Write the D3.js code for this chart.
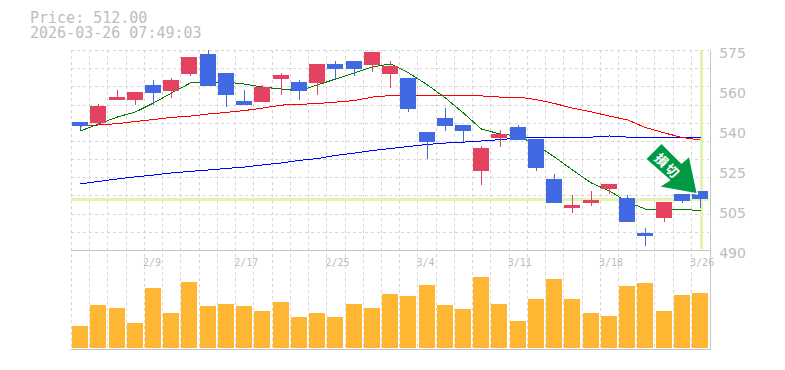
<!DOCTYPE html>
<html>
<head>
<meta charset="utf-8">
<script src="https://cdn.jsdelivr.net/npm/d3@7"></script>
<style>
  html, body { margin: 0; padding: 0; background: #fff; }
</style>
</head>
<body>
<div id="frame"></div>
<script>
// chart values
const dates = ["2/3","2/4","2/5","2/6","2/9","2/10","2/12","2/13","2/16","2/17","2/18","2/19","2/20","2/24","2/25","2/26","2/27","3/2","3/3","3/4","3/5","3/6","3/9","3/10","3/11","3/12","3/13","3/16","3/17","3/18","3/19","3/23","3/24","3/25","3/26"];
const opens = [545.5,545.1,555.1,555.1,561.7,559.1,566.5,575.2,567,554.7,554.2,564.3,563,562.6,570.9,572.2,570.4,566.5,564.7,541.1,547.2,544.2,524.1,538.5,543.3,538.1,520.6,507.9,510.1,516.2,512.3,497,503.5,514,515.3];
const highs = [545.5,553.4,559.5,558.6,563.9,564.7,573.9,577,567,559.5,561.7,567,563.9,570.9,572.2,572.2,576.1,572.2,564.7,541.1,551.6,544.2,535,542,544.2,538.1,522.7,513.6,515.3,518.4,513.6,499.1,510.5,514,515.3];
const lows = [542,544.2,555.1,552.9,552.9,556,565.6,561.2,552.1,552.9,554.2,557.3,555.1,557.3,564.3,565.6,567.4,560.4,549.9,529.3,541.6,536.7,518,534.6,537.6,524.1,510.1,505.7,508.7,514,501.7,491.2,501.7,510.1,507.9];
const closes = [543.7,552.5,556.4,558.6,558.2,563.9,573.9,561.2,557.3,552.9,560.8,566.1,559.1,570.9,568.7,568.7,576.1,570,551.2,536.7,543.7,541.6,534.1,540.2,537.6,525.4,510.1,509.2,511.4,518.4,501.7,495.6,510.5,511,512];
const ma5 = [541.6,544.6,547.7,549.9,553.8,558.2,562.6,563,563,562.1,560.8,559.9,559.1,561.7,564.3,567,569.6,570.9,567,561.7,556,549.4,542.4,540.2,539.4,535.4,530.2,524.5,518.8,515.3,510.5,507.4,507.4,507.4,506.6];
const ma25 = [543.7,544.2,544.8,545.7,546.6,547.5,548.1,549,549.7,550.5,551.6,552.9,553.2,553.6,554.2,554.9,556.4,557.1,557.1,556.9,556.9,556.9,556.9,556.4,556.4,555.3,553.6,551.6,549.9,548.1,546.4,543.1,540.7,538.7,537.6];
const ma75 = [518.4,519.5,520.6,521.5,522.3,523.2,523.9,524.5,525.2,525.8,526.7,527.6,528.7,529.5,530.9,531.9,533,533.9,534.8,535.7,536.3,536.7,537.2,537.8,538.5,538.9,538.9,538.9,538.9,539.4,538.9,538.9,538.9,538.9,538.9];
const volumes = [22,43,40,25,60,35,66,42,44,42,37,46,31,35,31,44,40,54,52,63,43,39,71,44,27,49,69,49,35,32,62,65,37,53,55];
const priceTicks = [577,559.5,542,524.5,507,489.5];
const priceLabels = ["575","560","540","525","505","490"];
const dateLabels = ["2/9","2/17","2/25","3/4","3/11","3/18","3/26"];
const lastPrice = 512;
const lastTime = "2026-03-26 07:49:03";
const signalText = "損切";

const width = 785, height = 370;
const plot = { left: 71, right: 709.2, top: 50, mid: 250, bottom: 348 };
const upColor = "#e34361", downColor = "#4169e1", lineGrey = "#c4c4c4", textGrey = "#bdbdbd";

const svg = d3.select("#frame").append("svg")
  .attr("width", width)
  .attr("height", height)
  .style("display", "block");

const x = d3.scaleBand().domain(dates).range([plot.left, plot.right]).paddingInner(0.12).paddingOuter(0.06);
const xMid = (d) => Math.round(x(d) + x.bandwidth() / 2) + 0.5;
const y = d3.scaleLinear().domain([priceTicks[5], priceTicks[0]]).range([plot.mid, plot.top]);
const yVol = d3.scaleLinear().domain([0, 98]).range([plot.bottom, plot.mid]);

// grid, dashed, runs through both panels
const grid = svg.append("g").attr("stroke", "#d6d6d6").attr("stroke-dasharray", "3,3").attr("shape-rendering", "crispEdges");
grid.selectAll("line.v")
  .data(dates)
  .join("line")
  .attr("class", "v")
  .attr("x1", (d) => Math.round(x(d) - x.step() * 0.06) + 0.5)
  .attr("x2", (d) => Math.round(x(d) - x.step() * 0.06) + 0.5)
  .attr("y1", plot.top)
  .attr("y2", plot.bottom + 1);
grid.selectAll("line.h")
  .data(d3.range(0, 11))
  .join("line")
  .attr("class", "h")
  .attr("x1", plot.left)
  .attr("x2", plot.right)
  .attr("y1", (i) => Math.round(plot.top + (i * (plot.mid - plot.top)) / 11) + 0.5)
  .attr("y2", (i) => Math.round(plot.top + (i * (plot.mid - plot.top)) / 11) + 0.5);

// current price cross
const lastX = xMid(dates[dates.length - 1]);
svg.append("line")
  .attr("x1", plot.left).attr("x2", plot.right)
  .attr("y1", Math.round(y(lastPrice))).attr("y2", Math.round(y(lastPrice)))
  .attr("stroke", "#e4f3ad").attr("stroke-width", 3).attr("shape-rendering", "crispEdges");
svg.append("line")
  .attr("x1", lastX + 0.5).attr("x2", lastX + 0.5)
  .attr("y1", plot.top).attr("y2", plot.mid - 1)
  .attr("stroke", "#e4f3ad").attr("stroke-width", 3).attr("shape-rendering", "crispEdges");

// moving averages
const line = d3.line().x((d, i) => xMid(dates[i])).y((d) => y(d));
[[ma75, "#0000ff"], [ma25, "#ff0000"], [ma5, "#007a00"]].forEach(([s, c]) => {
  svg.append("path")
    .attr("d", line(s))
    .attr("fill", "none")
    .attr("stroke", c)
    .attr("stroke-width", 1)
    .attr("shape-rendering", "crispEdges");
});

// candles
const candles = svg.append("g").attr("shape-rendering", "crispEdges");
const color = (i) => (closes[i] >= opens[i] ? upColor : downColor);
dates.forEach((d, i) => {
  candles.append("line")
    .attr("x1", xMid(d)).attr("x2", xMid(d))
    .attr("y1", y(highs[i])).attr("y2", y(lows[i]))
    .attr("stroke", color(i));
  const top = Math.round(y(Math.max(opens[i], closes[i])));
  const bot = Math.round(y(Math.min(opens[i], closes[i])));
  candles.append("rect")
    .attr("x", Math.round(x(d)))
    .attr("y", top)
    .attr("width", 16)
    .attr("height", bot - top)
    .attr("fill", color(i));
});

// volume
svg.append("g").attr("shape-rendering", "crispEdges")
  .selectAll("rect")
  .data(volumes)
  .join("rect")
  .attr("x", (d, i) => Math.round(x(dates[i])))
  .attr("y", (d) => yVol(d))
  .attr("width", 16)
  .attr("height", (d) => yVol(0) - yVol(d))
  .attr("fill", "#ffb733");

// panel frame
[[plot.left, plot.mid + 0.5, 710, plot.mid + 0.5], [plot.left, 349.5, 711, 349.5], [710.5, plot.top, 710.5, 350]].forEach((l) => {
  svg.append("line")
    .attr("x1", l[0]).attr("y1", l[1]).attr("x2", l[2]).attr("y2", l[3])
    .attr("stroke", lineGrey)
    .attr("shape-rendering", "crispEdges");
});

// price axis
const yAxis = svg.append("g")
  .attr("transform", `translate(${plot.right},0)`)
  .call(d3.axisRight(y).tickValues(priceTicks).tickSize(0).tickPadding(10).tickFormat((d, i) => priceLabels[i]));
yAxis.select(".domain").remove();
yAxis.selectAll("text")
  .attr("dy", "0.56em")
  .attr("font-family", "DejaVu Sans")
  .attr("font-size", 14)
  .attr("fill", textGrey);

// date axis sits inside the volume panel, labels start at the candle's left edge
const xAxis = svg.append("g")
  .attr("transform", `translate(0,${plot.mid})`)
  .call(d3.axisBottom(x).tickValues(dateLabels).tickSize(0).tickPadding(9));
xAxis.select(".domain").remove();
xAxis.selectAll("text")
  .attr("text-anchor", "start")
  .attr("x", -10)
  .attr("font-family", "DejaVu Sans Mono")
  .attr("font-size", 10)
  .attr("fill", textGrey);

// header
const header = svg.append("text")
  .attr("font-family", "DejaVu Sans Mono").attr("font-size", 15).attr("fill", textGrey);
header.append("tspan").attr("x", 30).attr("y", 23).text("Price: " + lastPrice.toFixed(2));
header.append("tspan").attr("x", 30).attr("y", 38).text(lastTime);

// signal arrow, anchored on the last but one candle
const arrow = svg.append("g")
  .attr("transform", `translate(${xMid(dates[33]) + 15},${y(highs[33])})`);
arrow.append("path")
  .attr("d", "M-36,-51L-16,-31L-8,-38L0,0L-39,-7L-28,-14L-52,-35Z")
  .attr("fill", "#009944")
  .attr("stroke", "#fff")
  .attr("stroke-width", 1.5)
  .attr("stroke-linejoin", "round");
arrow.append("text")
  .attr("transform", "translate(-30,-28) rotate(45)")
  .attr("text-anchor", "middle")
  .attr("dy", "0.38em")
  .attr("font-family", "Noto Sans CJK JP")
  .attr("font-weight", "bold")
  .attr("font-size", 13)
  .attr("letter-spacing", 2)
  .attr("fill", "#fff")
  .text(signalText);
</script>
</body>
</html>
